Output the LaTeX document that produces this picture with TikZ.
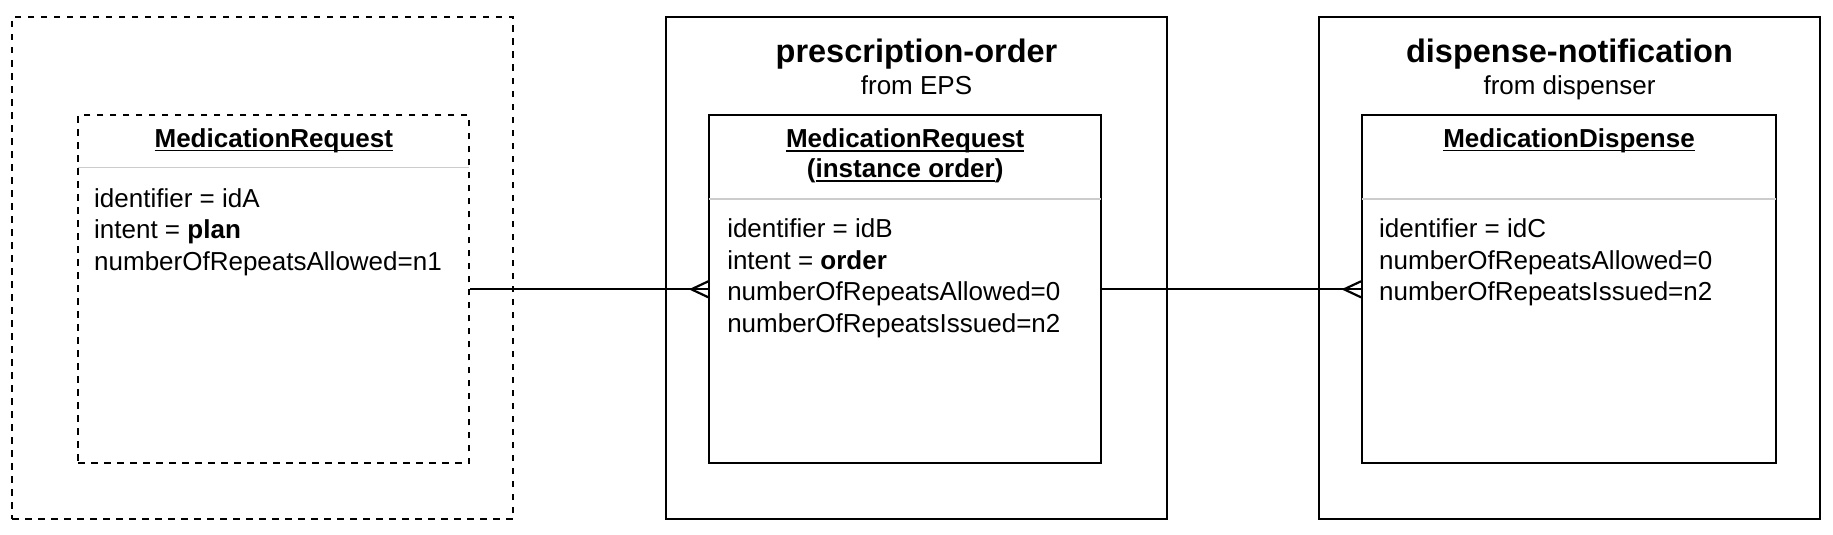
\documentclass[tikz,border=0pt]{standalone}
\usepackage{fontspec}
\setmainfont{Liberation Sans}
\usetikzlibrary{calc}
\newcommand\myul[1]{\setbox0\hbox{#1}\rlap{\rule[-4.1pt]{\wd0}{1.6pt}}\box0}
\begin{document}
\begin{tikzpicture}[x=1pt,y=-1pt,
  outerbox/.style={draw, line width=2pt, inner sep=0pt, minimum width=501pt, minimum height=502pt},
  dashedbox/.style={dash pattern=on 6.5pt off 6.5pt},
  innerbox/.style={draw, line width=2pt, inner sep=0pt, minimum height=348pt},
  sepline/.style={draw=black!20, line width=1.2pt},
  attr/.style={anchor=base west, inner sep=0pt, font=\fontsize{26pt}{31.6pt}\selectfont},
  ttl/.style={anchor=base, inner sep=0pt, font=\fontsize{26pt}{31.6pt}\selectfont\bfseries},
  bigttl/.style={anchor=base, inner sep=0pt, font=\fontsize{32.5pt}{39pt}\selectfont\bfseries},
  subttl/.style={anchor=base, inner sep=0pt, font=\fontsize{26pt}{31.6pt}\selectfont},
  conn/.style={line width=2.2pt}]
\useasboundingbox (0,0) rectangle (1833,535);

% outer containers
\node[outerbox, dashedbox] (o1) at (262.5,268) {};
\node[outerbox] (o2) at (916.5,268) {};
\node[outerbox] (o3) at (1569.5,268) {};

% inner class boxes
\node[innerbox, dashedbox, minimum width=391pt] (i1) at (273.8,289.3) {};
\node[innerbox, minimum width=391.7pt] (i2) at (905.2,289.3) {};
\node[innerbox, minimum width=414pt] (i3) at (1569,289.3) {};

% separators
\draw[sepline] ($(i1.north west)+(1,53)$) -- ($(i1.north east)+(-1,53)$);
\draw[sepline] ($(i2.north west)+(1,84.7)$) -- ($(i2.north east)+(-1,84.7)$);
\draw[sepline] ($(i3.north west)+(1,84.7)$) -- ($(i3.north east)+(-1,84.7)$);

% outer titles
\node[bigttl] (t2) at ($(o2.north)+(0,46.7)$) {prescription-order};
\node[subttl] (s2) at ($(o2.north)+(0,78.3)$) {from EPS};
\node[bigttl] (t3) at ($(o3.north)+(0,46.7)$) {dispense-notification};
\node[subttl] (s3) at ($(o3.north)+(0,78.3)$) {from dispenser};

% class titles
\node[ttl] (h1) at ($(i1.north)+(0,32.7)$) {\myul{MedicationRequest}};
\node[ttl] (h2a) at ($(i2.north)+(0,33.4)$) {\myul{MedicationRequest}};
\node[ttl] (h2b) at ($(i2.north)+(0,63.4)$) {(\myul{instance order})};
\node[ttl] (h3) at ($(i3.north)+(0,32.7)$) {\myul{MedicationDispense}};

% attributes box 1
\node[attr] (a11) at ($(i1.north west)+(16.7,92.7)$) {identifier = idA};
\node[attr] (a12) at ($(i1.north west)+(16.7,124.3)$) {intent = \textbf{plan}};
\node[attr] (a13) at ($(i1.north west)+(16.7,155.9)$) {numberOfRepeatsAllowed=n1};

% attributes box 2
\node[attr] (a21) at ($(i2.north west)+(18.7,123.4)$) {identifier = idB};
\node[attr] (a22) at ($(i2.north west)+(18.7,155.0)$) {intent = \textbf{order}};
\node[attr] (a23) at ($(i2.north west)+(18.7,186.6)$) {numberOfRepeatsAllowed=0};
\node[attr] (a24) at ($(i2.north west)+(18.7,218.2)$) {numberOfRepeatsIssued=n2};

% attributes box 3
\node[attr] (a31) at ($(i3.north west)+(18,123.4)$) {identifier = idC};
\node[attr] (a32) at ($(i3.north west)+(18,155.0)$) {numberOfRepeatsAllowed=0};
\node[attr] (a33) at ($(i3.north west)+(18,186.6)$) {numberOfRepeatsIssued=n2};

% connectors with crow's feet
\draw[conn] (i1.east) -- (i2.west);
\draw[conn] ($(i2.west)+(0,-8)$) -- ($(i2.west)+(-17,0)$) -- ($(i2.west)+(0,8)$);
\draw[conn] (i2.east) -- (i3.west);
\draw[conn] ($(i3.west)+(0,-8)$) -- ($(i3.west)+(-17,0)$) -- ($(i3.west)+(0,8)$);
\end{tikzpicture}
\end{document}
